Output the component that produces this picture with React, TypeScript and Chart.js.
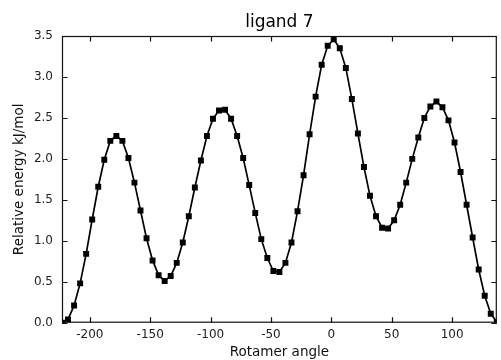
import React, { useEffect, useRef } from 'react';
import { Chart, registerables } from 'chart.js';

Chart.register(...registerables);

const chartTitle = 'ligand 7';
const xAxisLabel = 'Rotamer angle';
const yAxisLabel = 'Relative energy kJ/mol';

const angles = [
  -223, -218, -213, -208, -203, -198, -193, -188, -183, -178,
  -173, -168, -163, -158, -153, -148, -143, -138, -133, -128,
  -123, -118, -113, -108, -103, -98, -93, -88, -83, -78,
  -73, -68, -63, -58, -53, -48, -43, -38, -33, -28,
  -23, -18, -13, -8, -3, 2, 7, 12, 17, 22,
  27, 32, 37, 42, 47, 52, 57, 62, 67, 72,
  77, 82, 87, 92, 97, 102, 107, 112, 117, 122,
  127, 132, 137,
];

const energies = [
  0.0, 0.04, 0.21, 0.48, 0.84, 1.26, 1.66, 1.99, 2.22, 2.28,
  2.22, 2.01, 1.71, 1.37, 1.03, 0.76, 0.58, 0.51, 0.57, 0.73,
  0.98, 1.3, 1.65, 1.98, 2.28, 2.49, 2.59, 2.6, 2.49, 2.28,
  2.01, 1.68, 1.34, 1.02, 0.79, 0.63, 0.62, 0.73, 0.98, 1.36,
  1.8, 2.3, 2.76, 3.15, 3.38, 3.46, 3.35, 3.11, 2.73, 2.31,
  1.9, 1.55, 1.3, 1.16, 1.15, 1.25, 1.44, 1.71, 2.0, 2.26,
  2.5, 2.64, 2.7, 2.63, 2.47, 2.2, 1.84, 1.44, 1.04, 0.65,
  0.33, 0.11, 0.01,
];

const xTickValues = [-200, -150, -100, -50, 0, 50, 100];
const yTickValues = [0, 0.5, 1.0, 1.5, 2.0, 2.5, 3.0, 3.5];

const X_MIN = -223;
const X_MAX = 137;
const Y_MIN = 0;
const Y_MAX = 3.5;

const FONT = '"DejaVu Sans", sans-serif';

const framePlugin = {
  id: 'mplFrame',
  afterDraw(chart: any) {
    const { ctx, chartArea: a, scales } = chart;
    const x = scales.x;
    const y = scales.y;
    ctx.save();
    ctx.strokeStyle = '#111';
    ctx.lineWidth = 1.2;
    ctx.strokeRect(a.left + 0.5, a.top + 0.5, a.right - a.left - 1, a.bottom - a.top - 1);
    const L = 5.5;
    ctx.beginPath();
    xTickValues.forEach((v) => {
      const px = Math.round(x.getPixelForValue(v)) + 0.5;
      ctx.moveTo(px, a.bottom);
      ctx.lineTo(px, a.bottom - L);
      ctx.moveTo(px, a.top);
      ctx.lineTo(px, a.top + L);
    });
    yTickValues.forEach((v) => {
      const py = Math.round(y.getPixelForValue(v)) + 0.5;
      ctx.moveTo(a.left, py);
      ctx.lineTo(a.left + L, py);
      ctx.moveTo(a.right, py);
      ctx.lineTo(a.right - L, py);
    });
    ctx.stroke();
    ctx.fillStyle = '#000';
    ctx.font = `17px ${FONT}`;
    ctx.textAlign = 'center';
    ctx.textBaseline = 'alphabetic';
    ctx.fillText(chartTitle, (a.left + a.right) / 2, 27);
    ctx.restore();
  },
};

export default function App() {
  const canvasRef = useRef<HTMLCanvasElement | null>(null);

  useEffect(() => {
    if (!canvasRef.current) return;
    const chart = new Chart(canvasRef.current, {
      type: 'line',
      data: {
        datasets: [
          {
            data: angles.map((a, i) => ({ x: a, y: energies[i] })),
            borderColor: '#000',
            borderWidth: 1.7,
            backgroundColor: '#000',
            pointStyle: 'rect',
            pointRadius: 4.2,
            pointBorderWidth: 0,
            pointBackgroundColor: '#000',
            tension: 0,
            fill: false,
          },
        ],
      },
      options: {
        animation: false,
        responsive: false,
        devicePixelRatio: 1,
        layout: { padding: { top: 36, left: 0, right: 0, bottom: 0 } },
        plugins: {
          legend: { display: false },
          tooltip: { enabled: false },
          title: { display: false },
        },
        scales: {
          x: {
            type: 'linear',
            min: X_MIN,
            max: X_MAX,
            afterBuildTicks: (scale: any) => {
              scale.ticks = xTickValues.map((v) => ({ value: v }));
            },
            afterFit: (scale: any) => {
              scale.height = 37.3;
            },
            grid: { display: false, drawTicks: false },
            border: { display: false },
            ticks: {
              padding: 4.5,
              color: '#222',
              font: { family: FONT, size: 12 },
              maxRotation: 0,
              autoSkip: false,
              callback: (v: any) => String(v),
            },
            title: {
              display: true,
              text: xAxisLabel,
              color: '#111',
              font: { family: FONT, size: 13.5, lineHeight: 1.05 },
              padding: { top: 0, bottom: 0 },
            },
          },
          y: {
            type: 'linear',
            min: Y_MIN,
            max: Y_MAX,
            afterBuildTicks: (scale: any) => {
              scale.ticks = yTickValues.map((v) => ({ value: v }));
            },
            afterFit: (scale: any) => {
              scale.width = 62;
            },
            grid: { display: false, drawTicks: false },
            border: { display: false },
            ticks: {
              padding: 9,
              color: '#222',
              font: { family: FONT, size: 12 },
              autoSkip: false,
              callback: (v: any) => Number(v).toFixed(1),
            },
            title: {
              display: true,
              text: yAxisLabel,
              color: '#111',
              font: { family: FONT, size: 13.5 },
              padding: { top: 11, bottom: 0 },
            },
          },
        },
      },
      plugins: [framePlugin],
    });
    return () => chart.destroy();
  }, []);

  return (
    <div style={{ position: 'fixed', left: 0, top: 0, width: 501, height: 360, background: '#fff' }}>
      <canvas ref={canvasRef} width={501} height={360} style={{ display: 'block' }} />
    </div>
  );
}
